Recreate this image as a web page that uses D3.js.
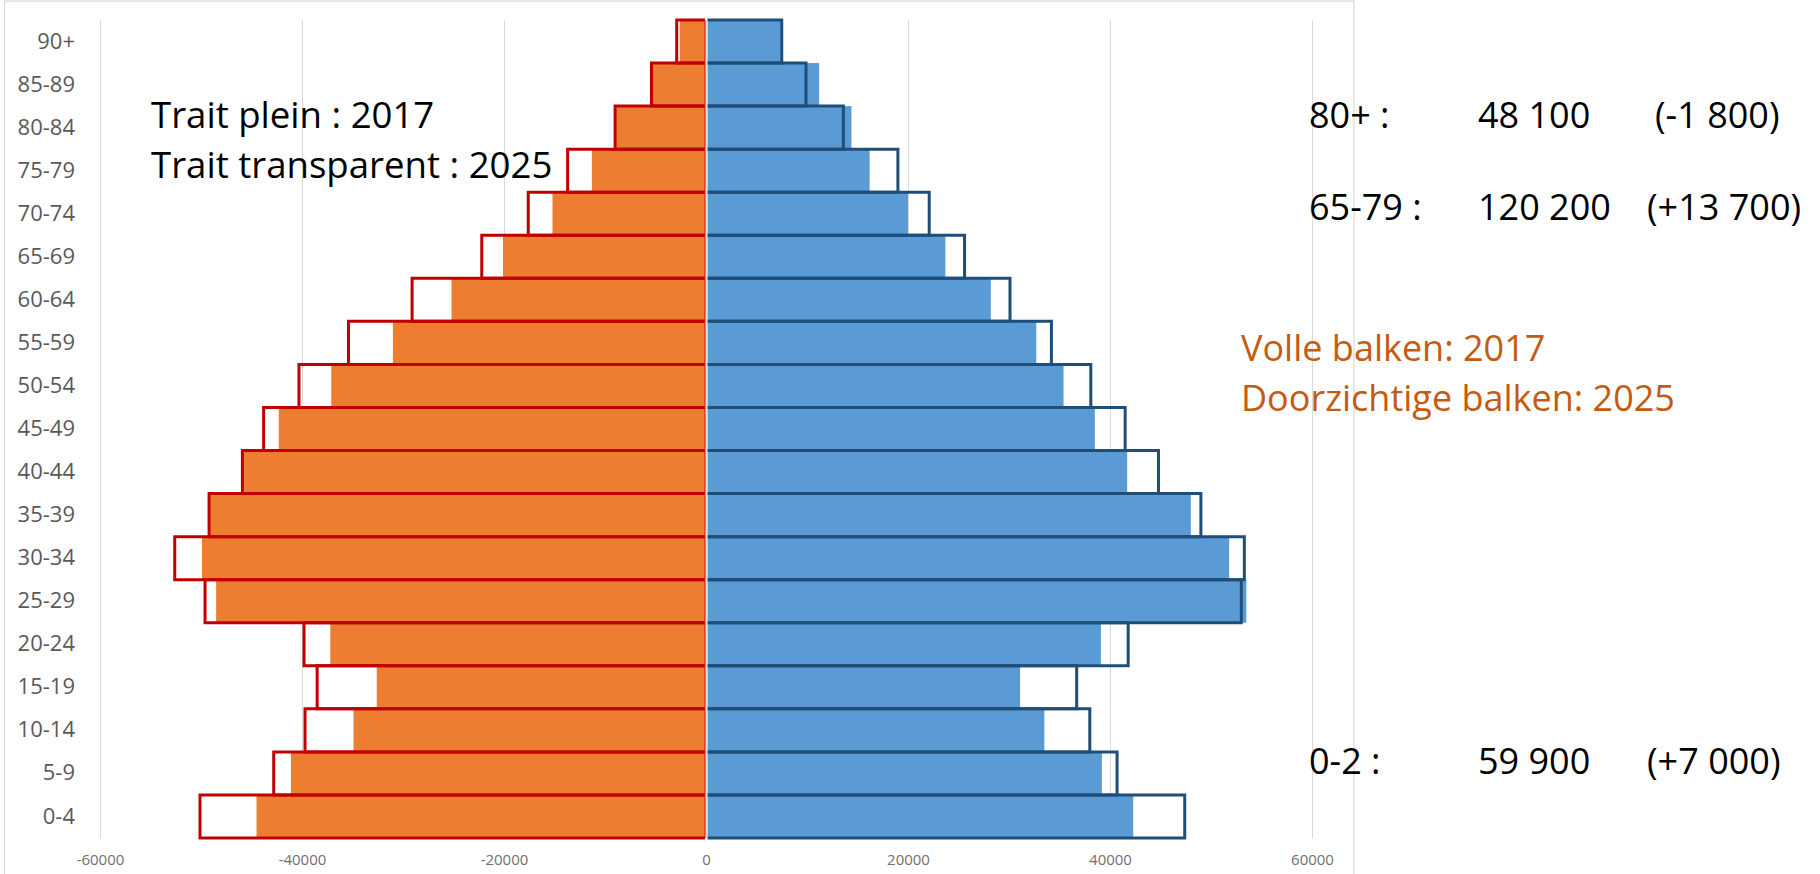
<!DOCTYPE html>
<html>
<head>
<meta charset="utf-8">
<script src="https://cdn.jsdelivr.net/npm/d3@7"></script>
<style>
  html, body { margin: 0; padding: 0; background: #fff; }
  svg { display: block; }
  text { font-family: "Open Sans", "Noto Sans", sans-serif; }
</style>
</head>
<body>
<svg id="chart" width="1820" height="874"></svg>
<script>
// ---- data (bottom to top) ----
const ageGroups = ["0-4","5-9","10-14","15-19","20-24","25-29","30-34","35-39","40-44","45-49",
                   "50-54","55-59","60-64","65-69","70-74","75-79","80-84","85-89","90+"];
// left side (orange), solid bars = 2017, outlined bars = 2025
const orange2017 = [44500,41100,34900,32600,37200,48500,49900,49100,45800,42300,37100,31000,25200,20100,15200,11300,9100,5500,2600];
const orange2025 = [50100,42800,39700,38500,39800,49600,52600,49200,45900,43800,40300,35400,29100,22200,17600,13700,9000,5400,2900];
// right side (blue)
const blue2017 = [42300,39200,33500,31100,39100,53500,51800,48000,41700,38500,35400,32700,28200,23700,20000,16200,14400,11200,7400];
const blue2025 = [47400,40700,38000,36700,41800,53000,53300,49000,44800,41500,38100,34200,30100,25600,22100,19000,13600,9900,7500];
const xTicks = [-60000,-40000,-20000,0,20000,40000,60000];

const noteLeft = ["Trait plein : 2017", "Trait transparent : 2025"];
const noteLegend = ["Volle balken: 2017", "Doorzichtige balken: 2025"];
const summaryRows = [
  ["80+ :", "48 100", "(-1 800)"],
  ["65-79 :", "120 200", "(+13 700)"],
  ["0-2 :", "59 900", "(+7 000)"]
];

// ---- layout ----
const svg = d3.select("#chart");
const plot = { left: 100, right: 1312, top: 20, bottom: 838 };

const x = d3.scaleLinear().domain([-60000, 60000]).range([plot.left, plot.right]);
const y = d3.scaleBand().domain(ageGroups.slice().reverse()).range([plot.top, plot.bottom]).padding(0);
const x0 = x(0);

// chart frame
svg.append("rect")
  .attr("x", 4.5).attr("y", 1).attr("width", 1349.5).attr("height", 890)
  .attr("fill", "none").attr("stroke", "#d9d9d9").attr("stroke-width", 1.2);

// gridlines
svg.append("g").selectAll("line").data(xTicks.filter(d => d !== 0)).join("line")
  .attr("x1", d => x(d) + 0.5).attr("x2", d => x(d) + 0.5)
  .attr("y1", plot.top).attr("y2", plot.bottom)
  .attr("stroke", "#d9d9d9").attr("stroke-width", 1);

const rows = ageGroups.map((g, i) => ({
  g, o17: orange2017[i], o25: orange2025[i], b17: blue2017[i], b25: blue2025[i]
}));

// solid fills (2017)
svg.append("g").selectAll("rect").data(rows).join("rect")
  .attr("x", d => x(-d.o17)).attr("width", d => (x0 - 0.5) - x(-d.o17))
  .attr("y", d => y(d.g)).attr("height", y.bandwidth())
  .attr("fill", "#ed7d31");
svg.append("g").selectAll("rect").data(rows).join("rect")
  .attr("x", x0 + 1.5).attr("width", d => x(d.b17) - x0 - 1.5)
  .attr("y", d => y(d.g)).attr("height", y.bandwidth())
  .attr("fill", "#5b9bd5");

// open outlines (2025): top, outer side, bottom
function outlinePath(xStart, xEnd, yTop, yBot) {
  const p = d3.path();
  p.moveTo(xStart, yTop);
  p.lineTo(xEnd, yTop);
  p.lineTo(xEnd, yBot);
  p.lineTo(xStart, yBot);
  return p.toString();
}
svg.append("g").selectAll("path").data(rows).join("path")
  .attr("d", d => outlinePath(x0 + 1.5, x(d.b25), y(d.g), y(d.g) + y.bandwidth()))
  .attr("fill", "none").attr("stroke", "#1f4e79").attr("stroke-width", 3)
  .attr("stroke-linejoin", "miter");
svg.append("g").selectAll("path").data(rows).join("path")
  .attr("d", d => outlinePath(x0 - 1, x(-d.o25), y(d.g), y(d.g) + y.bandwidth()))
  .attr("fill", "none").attr("stroke", "#c00000").attr("stroke-width", 3)
  .attr("stroke-linejoin", "miter");

// thin zero line
svg.append("line")
  .attr("x1", x0 - 1).attr("x2", x0 - 1).attr("y1", plot.top).attr("y2", plot.bottom)
  .attr("stroke", "#d0201c").attr("stroke-width", 1.2);
svg.append("line")
  .attr("x1", x0 + 0.6).attr("x2", x0 + 0.6).attr("y1", plot.top).attr("y2", plot.bottom)
  .attr("stroke", "#f3d6d6").attr("stroke-width", 1.6);

// axes
const xAxis = svg.append("g").attr("transform", `translate(0,${plot.bottom})`)
  .call(d3.axisBottom(x).tickValues(xTicks).tickSize(0).tickPadding(16).tickFormat(d => String(d)));
xAxis.select(".domain").remove();
xAxis.selectAll("text").attr("font-size", 15).attr("fill", "#6f6f6f")
  .attr("font-family", "'Open Sans', sans-serif");

const yAxis = svg.append("g").attr("transform", `translate(${plot.left},0)`)
  .call(d3.axisLeft(y).tickSize(0).tickPadding(25));
yAxis.select(".domain").remove();
yAxis.selectAll("text").attr("font-size", 22).attr("fill", "#595959")
  .attr("font-family", "'Open Sans', sans-serif");

// annotations
svg.append("g").selectAll("text").data(noteLeft).join("text")
  .attr("x", 151).attr("y", (d, i) => 128 + i * 50)
  .attr("font-size", 36.6).attr("fill", "#000").text(d => d);

svg.append("g").selectAll("text").data(noteLegend).join("text")
  .attr("x", 1241).attr("y", (d, i) => 361 + i * 50)
  .attr("font-size", 36).attr("fill", "#c55a11").text(d => d);

const rowY = [128, 220, 774];
const colX = [[1309, 1478, 1655], [1309, 1478, 1647], [1309, 1478, 1647]];
summaryRows.forEach((r, i) => {
  r.forEach((t, j) => {
    svg.append("text").attr("x", colX[i][j]).attr("y", rowY[i])
      .attr("font-size", 36).attr("fill", "#000").text(t);
  });
});
</script>
</body>
</html>
